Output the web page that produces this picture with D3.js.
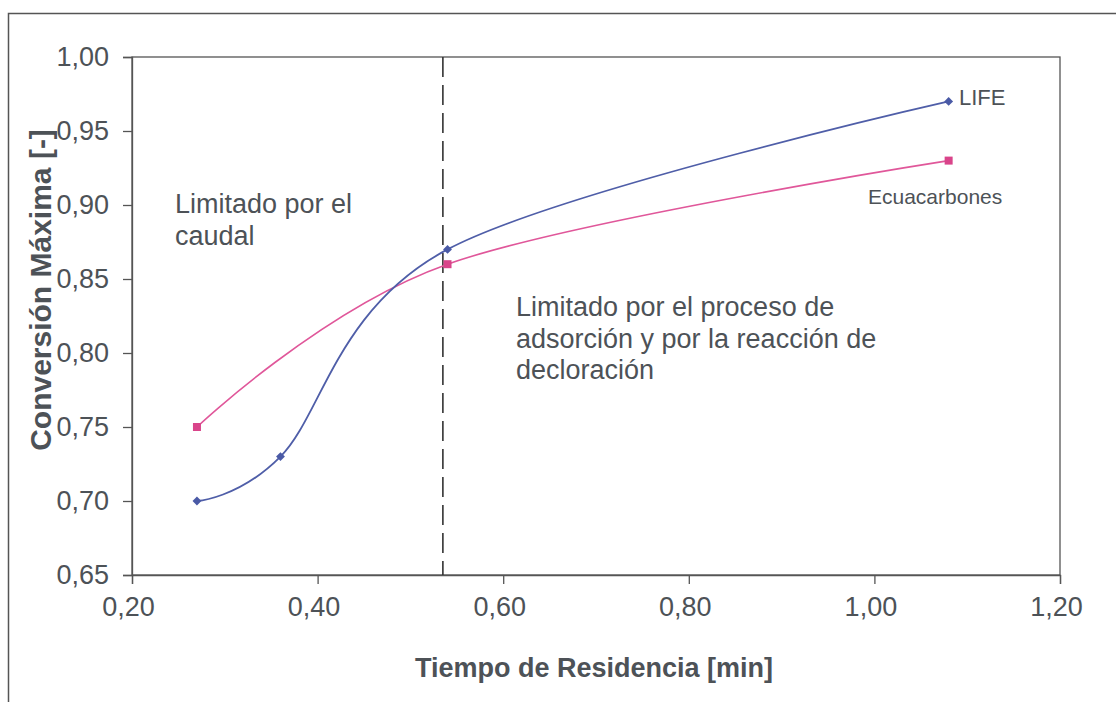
<!DOCTYPE html>
<html>
<head>
<meta charset="utf-8">
<script src="https://cdn.jsdelivr.net/npm/d3@7"></script>
<style>
  body { margin: 0; background: #fff; }
  text { font-family: "Liberation Sans", Arial, sans-serif; }
</style>
</head>
<body>
<div id="chart"></div>
<script>
// data
const lifeX = [0.27, 0.36, 0.54, 1.08];
const lifeY = [0.70, 0.73, 0.87, 0.97];
const ecuaX = [0.27, 0.54, 1.08];
const ecuaY = [0.75, 0.86, 0.93];
const xTicks = [0.20, 0.40, 0.60, 0.80, 1.00, 1.20];
const yTicks = [0.65, 0.70, 0.75, 0.80, 0.85, 0.90, 0.95, 1.00];
const dividerX = 0.535;

const W = 1116, H = 702;
const margin = { left: 132, top: 57, right: 56, bottom: 127 };
const pw = W - margin.left - margin.right;
const ph = H - margin.top - margin.bottom;

const fmt = d => d3.format(".2f")(d).replace(".", ",");
const grey = "#4d5257";

const svg = d3.select("#chart").append("svg")
    .attr("width", W).attr("height", H);

// outer frame (runs off right/bottom edges like the scan)
svg.append("rect")
    .attr("x", 8.5).attr("y", 13.5)
    .attr("width", 1130).attr("height", 720)
    .attr("fill", "none").attr("stroke", "#555").attr("stroke-width", 1.5);

const x = d3.scaleLinear().domain([0.2, 1.2]).range([0, pw]);
const y = d3.scaleLinear().domain([0.65, 1.0]).range([ph, 0]);

const g = svg.append("g").attr("transform", `translate(${margin.left},${margin.top})`);

// plot area border
g.append("rect").attr("width", pw).attr("height", ph)
    .attr("fill", "none").attr("stroke", "#555").attr("stroke-width", 1.3);

const xAxis = g.append("g").attr("transform", `translate(0,${ph})`)
    .call(d3.axisBottom(x).tickValues(xTicks).tickFormat(fmt).tickSize(9).tickPadding(13));
const yAxis = g.append("g")
    .call(d3.axisLeft(y).tickValues(yTicks).tickFormat(fmt).tickSize(9).tickPadding(14));

[xAxis, yAxis].forEach(a => {
    a.select(".domain").attr("stroke", "#555").attr("stroke-width", 1.3);
    a.selectAll(".tick line").attr("stroke", "#555").attr("stroke-width", 1.3);
    a.selectAll(".tick text").attr("fill", grey)
        .style("font-size", "27px");
});
xAxis.selectAll(".tick text").attr("dx", -4);

// axis titles
svg.append("text")
    .attr("x", margin.left + pw / 2 - 2).attr("y", 677)
    .attr("text-anchor", "middle").attr("fill", grey)
    .style("font-size", "27px").style("font-weight", "bold")
    .text("Tiempo de Residencia [min]");
svg.append("text")
    .attr("transform", `translate(51,290) rotate(-90)`)
    .attr("text-anchor", "middle").attr("fill", grey)
    .style("font-size", "30px").style("font-weight", "bold")
    .text("Conversión Máxima [-]");

// dashed divider
g.append("line")
    .attr("x1", x(dividerX)).attr("x2", x(dividerX))
    .attr("y1", 0).attr("y2", ph)
    .attr("stroke", "#333").attr("stroke-width", 1.6)
    .attr("stroke-dasharray", "20,8");

const line = d3.line().x(d => x(d[0])).y(d => y(d[1]))
    .curve(d3.curveCardinal.tension(0));

const lifePts = lifeX.map((v, i) => [v, lifeY[i]]);
const ecuaPts = ecuaX.map((v, i) => [v, ecuaY[i]]);

const lifeColor = "#4f5ea8", ecuaColor = "#e0579a";

g.append("path").datum(ecuaPts).attr("d", line)
    .attr("fill", "none").attr("stroke", ecuaColor).attr("stroke-width", 1.6);
g.append("path").datum(lifePts).attr("d", line)
    .attr("fill", "none").attr("stroke", lifeColor).attr("stroke-width", 1.8);

g.selectAll(".ecua").data(ecuaPts).join("rect")
    .attr("x", d => x(d[0]) - 4).attr("y", d => y(d[1]) - 4)
    .attr("width", 8).attr("height", 8).attr("fill", "#d9448a");
g.selectAll(".life").data(lifePts).join("path")
    .attr("d", d3.symbol(d3.symbolDiamond2, 50))
    .attr("transform", d => `translate(${x(d[0])},${y(d[1])})`)
    .attr("fill", "#4a5aa6");

// series labels
svg.append("text").attr("x", 959).attr("y", 105)
    .attr("fill", grey).style("font-size", "22px").text("LIFE");
svg.append("text").attr("x", 868).attr("y", 204)
    .attr("fill", grey).style("font-size", "21px").text("Ecuacarbones");

// annotations
const note = (lines, x0, y0) => {
    const t = svg.append("text").attr("fill", grey).style("font-size", "27px");
    lines.forEach((s, i) => t.append("tspan").attr("x", x0).attr("y", y0 + i * 31.5).text(s));
};
note(["Limitado por el", "caudal"], 175, 213);
note(["Limitado por el proceso de", "adsorción y por la reacción de", "decloración"], 516, 316);
</script>
</body>
</html>
